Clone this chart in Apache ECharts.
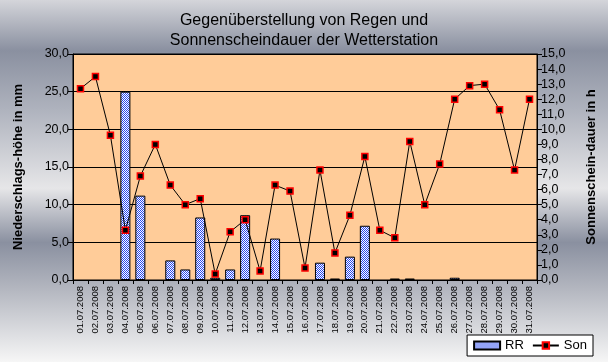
<!DOCTYPE html>
<html>
<head>
<meta charset="utf-8">
<script src="https://cdn.jsdelivr.net/npm/echarts@6/dist/echarts.min.js"></script>
<style>html,body{margin:0;padding:0;}#c{width:608px;height:362px;}</style>
</head>
<body>
<div id="c"></div>
<script>
const dates = ["01.07.2008","02.07.2008","03.07.2008","04.07.2008","05.07.2008","06.07.2008","07.07.2008","08.07.2008","09.07.2008","10.07.2008","11.07.2008","12.07.2008","13.07.2008","14.07.2008","15.07.2008","16.07.2008","17.07.2008","18.07.2008","19.07.2008","20.07.2008","21.07.2008","22.07.2008","23.07.2008","24.07.2008","25.07.2008","26.07.2008","27.07.2008","28.07.2008","29.07.2008","30.07.2008","31.07.2008"];
const rainRR = [0,0,0,25.0,11.2,0,2.6,1.4,8.3,0.3,1.4,8.6,0,5.5,0,0,2.3,0.2,3.1,7.2,0,0.2,0.2,0,0,0.3,0,0,0,0,0];
const sunSon = [12.7,13.5,9.6,3.3,6.9,9.0,6.3,5.0,5.4,0.4,3.2,4.0,0.6,6.3,5.9,0.8,7.3,1.8,4.3,8.2,3.3,2.8,9.2,5.0,7.7,12.0,12.9,13.0,11.3,7.3,12.0];
const titleText = "Gegenüberstellung von Regen und\nSonnenscheindauer der Wetterstation";
const leftName = "Niederschlags-höhe in mm";
const rightName = "Sonnenschein-dauer in h";

const pc = document.createElement('canvas');
pc.width = 2; pc.height = 2;
const px = pc.getContext('2d');
px.fillStyle = '#ffffff'; px.fillRect(0,0,2,2);
px.fillStyle = '#2848f0'; px.fillRect(0,0,1,1); px.fillRect(1,1,1,1);
const pattern = {image: pc, repeat: 'repeat'};

const narrow = "'Liberation Sans Narrow', 'Liberation Sans', Arial, sans-serif";
const sans = "'Liberation Sans', Arial, sans-serif";
const fmt = v => v.toFixed(1).replace('.', ',');

const chart = echarts.init(document.getElementById('c'), null, {renderer:'canvas'});
chart.setOption({
  animation: false,
  backgroundColor: {
    type: 'linear', x: 0, y: 0, x2: 0, y2: 1,
    colorStops: [
      {offset: 0, color: '#d4d5da'},
      {offset: 0.14, color: '#8a90a0'},
      {offset: 0.30, color: '#aeb2bd'},
      {offset: 0.52, color: '#e6e6e8'},
      {offset: 0.67, color: '#8a90a0'},
      {offset: 0.80, color: '#b4b7c0'},
      {offset: 1, color: '#f6f6f6'}
    ]
  },
  title: {
    text: titleText, left: 'center', top: 6,
    textStyle: {fontFamily: sans, fontSize: 16, fontWeight: 'normal', color: '#000', lineHeight: 20}
  },
  legend: {
    right: 15, bottom: 6, orient: 'horizontal',
    backgroundColor: '#fff', borderColor: '#000', borderWidth: 1,
    padding: [4, 6], itemGap: 8, itemWidth: 26, itemHeight: 8,
    textStyle: {fontFamily: sans, fontSize: 13, color: '#000'},
    data: [{name: 'RR', icon: 'rect'}, {name: 'Son'}]
  },
  grid: {
    left: 73, right: 71, top: 54, bottom: 82,
    show: true, backgroundColor: '#ffcc99', borderColor: '#000', borderWidth: 1
  },
  xAxis: {
    type: 'category', data: dates, boundaryGap: true,
    axisLine: {lineStyle: {color: '#000', width: 1}},
    axisTick: {show: true, length: 4, lineStyle: {color: '#000'}},
    axisLabel: {rotate: 90, interval: 0, fontFamily: narrow, fontSize: 9.5, color: '#000', margin: 6}
  },
  yAxis: [
    {
      type: 'value', min: 0, max: 30, interval: 5, position: 'left',
      name: leftName, nameLocation: 'middle', nameRotate: 90, nameGap: 48,
      nameTextStyle: {fontFamily: sans, fontSize: 13, fontWeight: 'bold', color: '#000'},
      axisLine: {show: true, lineStyle: {color: '#000'}},
      axisTick: {show: true, length: 5, lineStyle: {color: '#000'}},
      axisLabel: {formatter: fmt, fontFamily: narrow, fontSize: 12.5, color: '#000', margin: 4},
      splitLine: {show: true, lineStyle: {color: '#000', width: 1}}
    },
    {
      type: 'value', min: 0, max: 15, interval: 1, position: 'right',
      name: rightName, nameLocation: 'middle', nameRotate: 90, nameGap: 48,
      nameTextStyle: {fontFamily: sans, fontSize: 13, fontWeight: 'bold', color: '#000'},
      axisLine: {show: true, lineStyle: {color: '#000'}},
      axisTick: {show: true, length: 5, lineStyle: {color: '#000'}},
      axisLabel: {formatter: fmt, fontFamily: narrow, fontSize: 12.5, color: '#000', margin: 4},
      splitLine: {show: false}
    }
  ],
  series: [
    {
      name: 'RR', type: 'bar', yAxisIndex: 0,
      data: rainRR.map(v => (v === 0 ? null : v)),
      barCategoryGap: '33%',
      itemStyle: {color: pattern, borderColor: '#000', borderWidth: 1, borderRadius: 0}
    },
    {
      name: 'Son', type: 'line', yAxisIndex: 1, data: sunSon,
      symbol: 'rect', symbolSize: 6, showAllSymbol: true,
      lineStyle: {color: '#000', width: 1},
      itemStyle: {color: '#000', borderColor: '#ff0000', borderWidth: 1.5},
      z: 5
    }
  ]
});
</script>
</body>
</html>
